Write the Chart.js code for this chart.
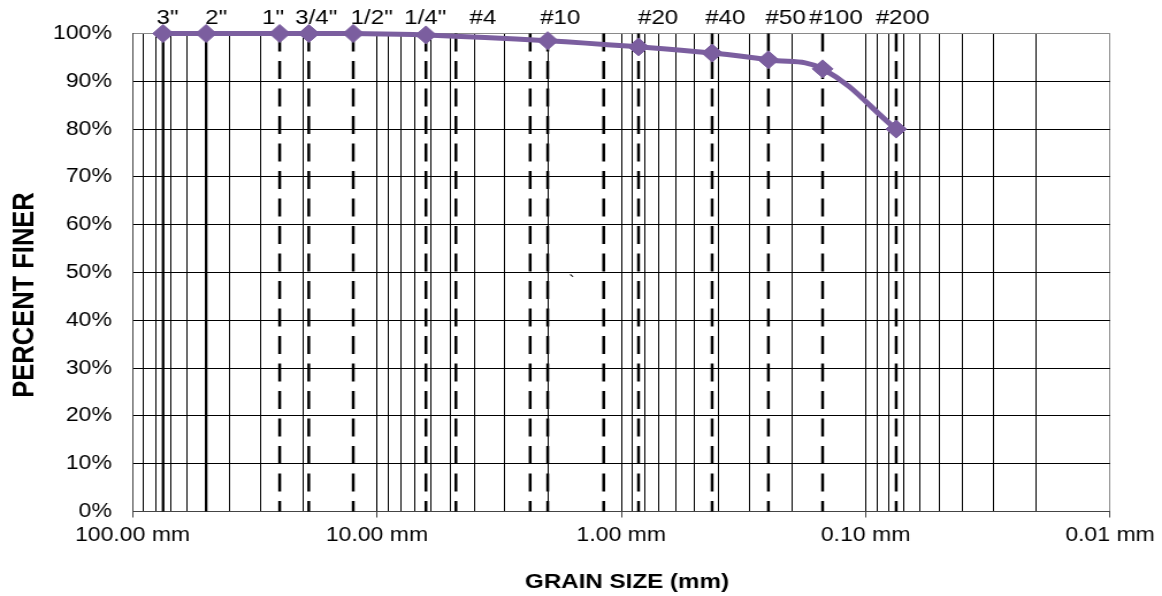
<!DOCTYPE html>
<html><head><meta charset="utf-8">
<script src="https://cdn.jsdelivr.net/npm/chart.js@4.4.1/dist/chart.umd.min.js"></script>
<style>html,body{margin:0;padding:0;background:#fff;overflow:hidden}canvas{display:block}</style>
</head><body>
<canvas id="c" width="1010" height="596" style="width:1162px;height:596px"></canvas>
<script>
// ---------------- data ----------------
const sieveLabels = ['3"', '2"', '1"', '3/4"', '1/2"', '1/4"', '#4', '', '#10', '', '#20', '#40', '#50', '#100', '#200'];
const sieveSizes  = [75, 50, 25, 19, 12.5, 6.3, 4.75, 2.36, 2.0, 1.18, 0.85, 0.425, 0.25, 0.15, 0.075];
const grainSizes   = [75, 50, 25, 19, 12.5, 6.3, 2.0, 0.85, 0.425, 0.25, 0.15, 0.075];
const percentFiner = [100, 100, 100, 100, 100, 99.7, 98.5, 97.2, 95.9, 94.5, 92.6, 80.0];
const xTickValues = [0.01,0.02,0.03,0.04,0.05,0.06,0.07,0.08,0.09,
                     0.1,0.2,0.3,0.4,0.5,0.6,0.7,0.8,0.9,
                     1,2,3,4,5,6,7,8,9,
                     10,20,30,40,50,60,70,80,90,100];
const xMajorValues = [100, 10, 1, 0.1, 0.01];
const xMajorLabels = ['100.00 mm', '10.00 mm', '1.00 mm', '0.10 mm', '0.01 mm'];
const yTickValues = [0,10,20,30,40,50,60,70,80,90,100];
const yAxisTitle = 'PERCENT FINER';
const xAxisTitle = 'GRAIN SIZE (mm)';

// ---------------- styles ----------------
const FONT = '"Liberation Sans", Arial, sans-serif';
const PURPLE = '#7b5e9f';
const labelOffsets = [3.9, 8.7, -5.7, 6.4, 16, -0.6, 23.5, 0, 10.9, 0, 17, 11.5, 15, 11.6, 5.6];

const isMajor = v => Math.abs(Math.log10(v) - Math.round(Math.log10(v))) < 1e-9;

const sieveDatasets = sieveSizes.map((s, i) => ({
  data: [{x: s, y: 100}, {x: s, y: 0}],
  showLine: true,
  borderColor: '#000',
  borderWidth: i < 2 ? 2.3 : 2.5,
  borderDash: i < 2 ? [] : [18, 9.5],
  pointRadius: 0,
  tension: 0,
  clip: false
}));

const gradation = {
  data: grainSizes.map((x, i) => ({x: x, y: percentFiner[i]})),
  showLine: true,
  borderColor: PURPLE,
  backgroundColor: PURPLE,
  borderWidth: 5,
  pointStyle: 'rectRot',
  pointRadius: 9,
  pointBorderWidth: 1,
  pointBackgroundColor: PURPLE,
  pointBorderColor: PURPLE,
  tension: 0.4,
  clip: false
};

const overlay = {
  id: 'overlay',
  afterDraw(chart) {
    const ctx = chart.ctx;
    const xs = chart.scales.x;
    ctx.save();
    ctx.fillStyle = '#000';
    ctx.font = '21px ' + FONT;
    ctx.textAlign = 'center';
    ctx.textBaseline = 'alphabetic';
    sieveLabels.forEach((lab, i) => {
      if (!lab) return;
      ctx.fillText(lab, xs.getPixelForValue(sieveSizes[i]) + labelOffsets[i], 23.5);
    });
    // axis titles
    ctx.font = 'bold 21px ' + FONT;
    ctx.textBaseline = 'middle';
    ctx.fillText(xAxisTitle, 545, 582);
    ctx.save();
    ctx.translate(22, 295);
    ctx.rotate(-Math.PI / 2);
    ctx.font = 'bold 25.5px ' + FONT;
    ctx.fillText(yAxisTitle, 0, 0);
    ctx.restore();
    // stray mark
    ctx.font = '16px ' + FONT;
    ctx.fillText('`', 497, 283);
    ctx.restore();
  }
};

new Chart(document.getElementById('c'), {
  type: 'scatter',
  data: {datasets: [gradation, ...sieveDatasets]},
  options: {
    responsive: false,
    devicePixelRatio: 1,
    animation: false,
    layout: {padding: {top: 33.5, right: 45.2, left: 0, bottom: 0}},
    plugins: {legend: {display: false}, tooltip: {enabled: false}},
    scales: {
      x: {
        type: 'logarithmic', reverse: true, min: 0.01, max: 100,
        afterBuildTicks: s => { s.ticks = xTickValues.map(v => ({value: v})); },
        afterFit: s => { s.height = 596 - 511.5; },
        ticks: {
          autoSkip: false, maxRotation: 0, minRotation: 0, padding: 6, color: '#000',
          font: {family: FONT, size: 20},
          callback: v => { const k = xMajorValues.indexOf(v); return k >= 0 ? xMajorLabels[k] : ''; }
        },
        grid: {
          color: c => (c.tick && c.tick.value === 0.01) ? '#8a8a8a' : '#000',
          lineWidth: 1, tickLength: 6,
          tickColor: c => (c.tick && isMajor(c.tick.value)) ? '#444' : 'rgba(0,0,0,0)'
        },
        border: {color: '#444', width: 1}
      },
      y: {
        min: 0, max: 100,
        afterBuildTicks: s => { s.ticks = yTickValues.map(v => ({value: v})); },
        afterFit: s => { s.width = 115.2; },
        ticks: {padding: 18, color: '#000', font: {family: FONT, size: 20}, callback: v => v + '%'},
        grid: {color: c => (c.tick && c.tick.value === 100) ? '#8a8a8a' : '#000', lineWidth: 1, drawTicks: false},
        border: {color: '#444', width: 1}
      }
    }
  },
  plugins: [overlay]
});
</script>
</body></html>
